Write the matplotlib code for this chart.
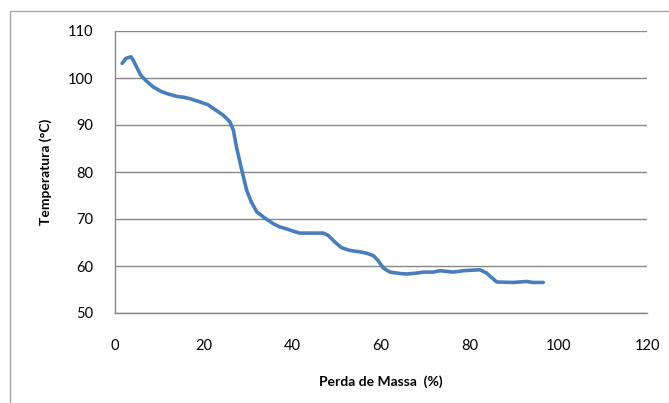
import matplotlib
matplotlib.use("Agg")
import matplotlib.pyplot as plt
from matplotlib.patches import Rectangle

perda_massa = [1.6, 2.5, 3.6, 4.1, 5.0, 5.8, 6.8, 8.6, 10.5, 12.0, 13.9, 15.5, 16.9,
               19.2, 21.0, 22.2, 24.4, 25.9, 26.7, 27.4, 28.6, 29.7, 30.8, 32.0, 33.5,
               35.7, 37.2, 38.7, 40.2, 41.7, 43.2, 47.0, 48.1, 49.6, 51.1, 53.0, 55.3,
               56.8, 58.3, 59.4, 60.5, 62.0, 64.3, 65.8, 68.1, 69.5, 71.8, 73.3, 76.3,
               78.6, 82.3, 83.8, 86.1, 89.8, 92.8, 94.3, 96.6]
temperatura = [103.1, 104.2, 104.5, 103.8, 102.1, 100.6, 99.6, 98.1, 97.1, 96.6, 96.1,
               95.9, 95.6, 94.9, 94.3, 93.5, 92.1, 90.7, 88.9, 85.3, 80.4, 76.1, 73.5,
               71.5, 70.4, 69.0, 68.3, 67.9, 67.4, 67.0, 67.0, 67.0, 66.5, 65.1, 63.9,
               63.3, 63.0, 62.7, 62.2, 61.1, 59.6, 58.7, 58.4, 58.3, 58.5, 58.7, 58.7,
               59.0, 58.7, 59.0, 59.2, 58.5, 56.6, 56.5, 56.7, 56.5, 56.5]
x_ticks = [0, 20, 40, 60, 80, 100, 120]
y_ticks = [50, 60, 70, 80, 90, 100, 110]

plt.rcParams['font.family'] = ['Lato', 'DejaVu Sans']

fig = plt.figure(figsize=(6.69, 4.03), dpi=100)
ax = fig.add_axes([115/669, 1 - 313/403, (647 - 115)/669, (313 - 31)/403])

ax.plot(perda_massa, temperatura, color='#4A7EBB', linewidth=2.6,
        solid_capstyle='round', solid_joinstyle='round', zorder=3)

ax.set_xlim(0, 120)
ax.set_ylim(50, 110)
ax.set_xticks(x_ticks)
ax.set_yticks(y_ticks)
ax.tick_params(axis='both', length=0, labelsize=10.5, colors='black')
ax.tick_params(axis='x', pad=19)
ax.tick_params(axis='y', pad=16)
ax.grid(axis='y', color='#878787', linewidth=1.0)
ax.set_axisbelow(True)

for side in ['top', 'right']:
    ax.spines[side].set_visible(False)
for side in ['left', 'bottom']:
    ax.spines[side].set_color('#878787')
    ax.spines[side].set_linewidth(1.0)

ax.set_xlabel('Perda de Massa  (%)', fontsize=10, fontweight='bold', labelpad=16)
ax.set_ylabel('Temperatura (°C)', fontsize=10, fontweight='bold', labelpad=11)

fig.patches.append(Rectangle((10/669, -0.05), 1.1, 1 - 11/403 + 0.05,
                             transform=fig.transFigure, fill=False,
                             edgecolor='#A6A6A6', linewidth=1.0))

fig.savefig('out.png', dpi=100)
